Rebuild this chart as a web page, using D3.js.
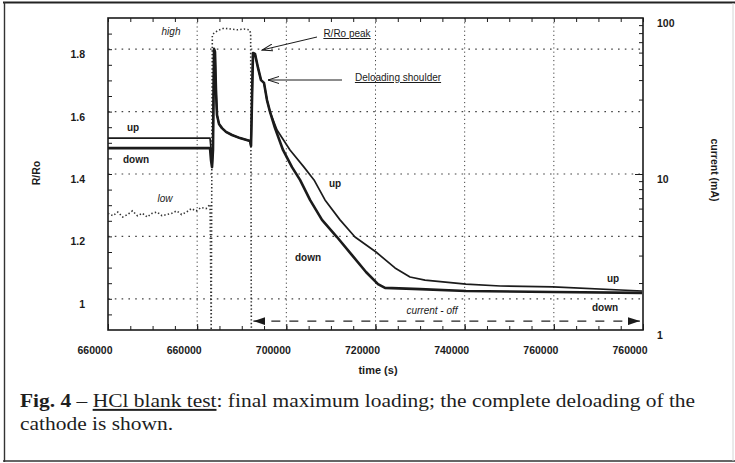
<!DOCTYPE html>
<html>
<head>
<meta charset="utf-8">
<script src="https://cdn.jsdelivr.net/npm/d3@7"></script>
<style>
  body { margin: 0; background: #fff; }
  svg { display: block; }
</style>
</head>
<body>
<svg id="chart" width="735" height="463"></svg>
<script>
// ---- data -------------------------------------------------------------
const timeTicks = [660000, 680000, 700000, 720000, 740000, 760000, 780000];
const timeTickLabels = ["660000", "660000", "700000", "720000", "740000", "760000", "760000"];
const ratioTicks = [1, 1.2, 1.4, 1.6, 1.8];
const ratioTickLabels = ["1", "1.2", "1.4", "1.6", "1.8"];
const currentTicks = [1, 10, 100];
const currentTickLabels = ["1", "10", "100"];

// R/Ro, "down" measurement: [time (s), R/Ro]
const downSeries = [
  [660000, 1.483], [682880, 1.483], [683100, 1.445], [683330, 1.422], [683550, 1.477],
  [683780, 1.801], [684000, 1.791], [684220, 1.669], [684450, 1.589], [684900, 1.560],
  [685570, 1.547], [686470, 1.535], [687810, 1.525], [689610, 1.515], [691850, 1.506],
  [692080, 1.490], [692300, 1.637], [692520, 1.788], [692970, 1.785], [693650, 1.740],
  [694320, 1.701], [694990, 1.692], [695660, 1.637], [696340, 1.599], [697460, 1.547],
  [699250, 1.477], [701270, 1.422], [703070, 1.381], [705310, 1.317], [708000, 1.253],
  [711360, 1.198], [714730, 1.140], [717870, 1.086], [720560, 1.047], [722130, 1.035],
  [729980, 1.031], [740300, 1.025], [759810, 1.022], [779780, 1.019]
];

// R/Ro, "up" measurement: [time (s), R/Ro]
const upSeries = [
  [660000, 1.515], [682880, 1.515], [683100, 1.483], [683330, 1.422], [683550, 1.477],
  [683780, 1.801], [684000, 1.791], [684220, 1.669], [684450, 1.589], [684900, 1.560],
  [685570, 1.547], [686470, 1.535], [687810, 1.525], [689610, 1.515], [691850, 1.506],
  [692080, 1.490], [692300, 1.637], [692520, 1.788], [692970, 1.785], [693650, 1.740],
  [694320, 1.701], [694990, 1.692], [695660, 1.637], [696340, 1.599], [697910, 1.541],
  [700820, 1.477], [703960, 1.422], [706210, 1.381], [708670, 1.317], [712040, 1.253],
  [715400, 1.198], [720110, 1.150], [724370, 1.099], [727740, 1.070], [731100, 1.060],
  [740300, 1.047], [748000, 1.041], [759810, 1.038], [779780, 1.025]
];

// cell current (mA): [time (s), mA]
const currentSeries = [
  [660000, 5.6], [661100, 5.4], [662200, 5.7], [663300, 5.3], [664400, 5.5],
  [665500, 5.8], [666600, 5.4], [667700, 5.6], [668800, 5.3], [669900, 5.6],
  [671000, 5.7], [672100, 5.4], [673200, 5.5], [674300, 5.6], [675400, 5.8],
  [676500, 5.5], [677600, 5.7], [678700, 6.0], [679800, 5.8], [680900, 6.1],
  [682000, 6.0], [682900, 6.4], [683150, 1.0], [683400, 78], [683800, 80],
  [684600, 83], [686000, 86], [687500, 85], [689000, 84], [690500, 85],
  [691700, 84], [692000, 80], [692150, 1.0]
];

// ---- layout -----------------------------------------------------------
const svg = d3.select("#chart");
const plot = { left: 108, right: 643, top: 18, bottom: 330 };
const sans = "'Liberation Sans', Arial, sans-serif";
const serif = "'Liberation Serif', 'Times New Roman', serif";
const ink = "#1b1b1b";

const x = d3.scaleLinear().domain([660000, 780000]).range([plot.left, plot.right]);
const yR = d3.scaleLinear().domain([0.9, 1.9]).range([plot.bottom, plot.top]);
const yI = d3.scaleLog().domain([1, 100]).range([plot.bottom, plot.top]);

svg.append("rect").attr("width", 735).attr("height", 463).attr("fill", "#fff");

// outer frame of the figure
svg.append("line").attr("x1", 3).attr("x2", 735).attr("y1", 2.5).attr("y2", 2.5)
  .attr("stroke", "#222").attr("stroke-width", 2.2);
svg.append("line").attr("x1", 4.5).attr("x2", 4.5).attr("y1", 2).attr("y2", 462)
  .attr("stroke", "#333").attr("stroke-width", 1.4);
svg.append("line").attr("x1", 3).attr("x2", 735).attr("y1", 461).attr("y2", 461)
  .attr("stroke", "#333").attr("stroke-width", 1.6);
svg.append("line").attr("x1", 733).attr("x2", 733).attr("y1", 3).attr("y2", 461)
  .attr("stroke", "#d4d4d4").attr("stroke-width", 1);

svg.append("clipPath").attr("id", "plotclip").append("rect")
  .attr("x", plot.left).attr("y", plot.top)
  .attr("width", plot.right - plot.left).attr("height", plot.bottom - plot.top);

// dotted grid
const grid = svg.append("g").attr("stroke", "#444").attr("fill", "none");
grid.selectAll("line.h").data(ratioTicks).join("line")
  .attr("x1", plot.left).attr("x2", plot.right)
  .attr("y1", d => yR(d)).attr("y2", d => yR(d))
  .attr("stroke-width", 1.2).attr("stroke-dasharray", "1.6,5.2");
grid.selectAll("line.v").data(timeTicks.slice(1, -1)).join("line")
  .attr("x1", d => x(d)).attr("x2", d => x(d))
  .attr("y1", plot.top).attr("y2", plot.bottom)
  .attr("stroke-width", 1).attr("stroke-dasharray", "1.2,3");

// minor ticks (inward)
const minorT = d3.range(660000, 780001, 5000);
const axT = d3.axisTop(x).tickValues(minorT).tickSize(-4).tickFormat("");
const axB = d3.axisBottom(x).tickValues(minorT).tickSize(-4).tickFormat("");
const axBMaj = d3.axisBottom(x).tickValues(timeTicks).tickSize(-6).tickFormat("");
const axL = d3.axisLeft(yR).tickValues(d3.range(0.95, 1.9, 0.05)).tickSize(-4).tickFormat("");
const logMinor = [2,3,4,5,6,7,8,9,20,30,40,50,60,70,80,90];
const axR = d3.axisRight(yI).tickValues(logMinor).tickSize(-4).tickFormat("");
const axRMaj = d3.axisRight(yI).tickValues([10]).tickSize(-8).tickFormat("");
[[axT, `translate(0,${plot.top})`], [axB, `translate(0,${plot.bottom})`],
 [axBMaj, `translate(0,${plot.bottom})`], [axL, `translate(${plot.left},0)`],
 [axR, `translate(${plot.right},0)`], [axRMaj, `translate(${plot.right},0)`]]
  .forEach(([a, t]) => {
    const g = svg.append("g").attr("transform", t).call(a);
    g.select(".domain").remove();
    g.selectAll("line").attr("stroke", ink).attr("stroke-width", 1);
  });

// frame of the plot
svg.append("rect").attr("x", plot.left).attr("y", plot.top)
  .attr("width", plot.right - plot.left).attr("height", plot.bottom - plot.top)
  .attr("fill", "none").attr("stroke", ink).attr("stroke-width", 1.6);

// tick labels
const lbl = svg.append("g").attr("font-family", sans).attr("font-weight", "bold")
  .attr("font-size", 10.5).attr("fill", ink);
lbl.selectAll("text.x").data(timeTicks).join("text")
  .attr("x", d => x(d) - 13).attr("y", 354).attr("text-anchor", "middle")
  .text((d, i) => timeTickLabels[i]);
lbl.selectAll("text.l").data(ratioTicks).join("text")
  .attr("x", 85).attr("y", d => yR(d) + 9).attr("text-anchor", "end")
  .text((d, i) => ratioTickLabels[i]);
lbl.selectAll("text.r").data(currentTicks).join("text")
  .attr("x", 657).attr("y", d => yI(d) + 9).attr("text-anchor", "start")
  .text((d, i) => currentTickLabels[i]);

// axis titles
lbl.append("text").attr("transform", "translate(40,173) rotate(-90)")
  .attr("text-anchor", "middle").text("R/Ro");
lbl.append("text").attr("transform", "translate(711,170) rotate(90)")
  .attr("text-anchor", "middle").text("current (mA)");
lbl.append("text").attr("x", 378).attr("y", 374).attr("text-anchor", "middle")
  .attr("font-size", 11).text("time (s)");

// series
const body = svg.append("g").attr("clip-path", "url(#plotclip)");
const lineR = d3.line().x(d => x(d[0])).y(d => yR(d[1]));
const lineI = d3.line().x(d => x(d[0])).y(d => yI(d[1]));

body.append("path").datum(currentSeries).attr("d", lineI)
  .attr("fill", "none").attr("stroke", "#333").attr("stroke-width", 1.6)
  .attr("stroke-dasharray", "1.4,2.2");
body.append("path").datum(upSeries).attr("d", lineR)
  .attr("fill", "none").attr("stroke", ink).attr("stroke-width", 1.7)
  .attr("stroke-linejoin", "round");
body.append("path").datum(downSeries).attr("d", lineR)
  .attr("fill", "none").attr("stroke", ink).attr("stroke-width", 2.6)
  .attr("stroke-linejoin", "round");

// current-off span arrow
const offStart = 692600, offEnd = 779300, offLevel = 1.14;
const defs = svg.append("defs");
defs.append("marker").attr("id", "solidhead").attr("viewBox", "0 0 12 8")
  .attr("refX", 12).attr("refY", 4).attr("markerWidth", 12).attr("markerHeight", 8)
  .attr("markerUnits", "userSpaceOnUse").attr("orient", "auto-start-reverse")
  .append("path").attr("d", "M0,0 L12,4 L0,8 Z").attr("fill", ink);
defs.append("marker").attr("id", "openhead").attr("viewBox", "0 0 12 8")
  .attr("refX", 1).attr("refY", 4).attr("markerWidth", 12).attr("markerHeight", 8)
  .attr("markerUnits", "userSpaceOnUse").attr("orient", "auto")
  .append("path").attr("d", "M12,0.5 L1,4 L12,7.5").attr("fill", "none")
  .attr("stroke", ink).attr("stroke-width", 1);

svg.append("line")
  .attr("x1", x(offStart)).attr("x2", x(offEnd))
  .attr("y1", yI(offLevel)).attr("y2", yI(offLevel))
  .attr("stroke", "#222").attr("stroke-width", 1.1).attr("stroke-dasharray", "9,9")
  .attr("marker-start", "url(#solidhead)").attr("marker-end", "url(#solidhead)");

// pointer arrows
svg.append("line").attr("x1", 262).attr("y1", 50).attr("x2", 317).attr("y2", 37)
  .attr("stroke", ink).attr("stroke-width", 1).attr("marker-start", "url(#openhead)");
svg.append("line").attr("x1", 268).attr("y1", 80).attr("x2", 342).attr("y2", 80)
  .attr("stroke", ink).attr("stroke-width", 1).attr("marker-start", "url(#openhead)");

// in-plot annotations
const ann = svg.append("g").attr("font-family", sans).attr("font-size", 10).attr("fill", ink);
const bold = [["up", 133, 131], ["down", 136, 163], ["up", 335, 187], ["down", 308, 261],
              ["up", 613, 282], ["down", 605, 311]];
ann.selectAll("text.b").data(bold).join("text")
  .attr("x", d => d[1]).attr("y", d => d[2]).attr("text-anchor", "middle")
  .attr("font-weight", "bold").text(d => d[0]);
const ital = [["high", 171, 35], ["low", 165, 202], ["current - off", 432, 314]];
ann.selectAll("text.i").data(ital).join("text")
  .attr("x", d => d[1]).attr("y", d => d[2]).attr("text-anchor", "middle")
  .attr("font-style", "italic").text(d => d[0]);
const under = [["R/Ro peak", 347, 37], ["Deloading shoulder", 398, 81]];
ann.selectAll("text.u").data(under).join("text")
  .attr("x", d => d[1]).attr("y", d => d[2]).attr("text-anchor", "middle")
  .attr("text-decoration", "underline").text(d => d[0]);

// caption
const cap = svg.append("text").attr("font-family", serif).attr("font-size", 19.5)
  .attr("fill", "#1e1e1e").attr("transform", "translate(20,0) scale(1.1,1)");
const l1 = cap.append("tspan").attr("x", 0).attr("y", 407);
l1.append("tspan").attr("font-weight", "bold").text("Fig. 4");
l1.append("tspan").text(" \u2013 ");
l1.append("tspan").attr("text-decoration", "underline").text("HCl blank test");
l1.append("tspan").text(": final maximum loading; the complete deloading of the");
cap.append("tspan").attr("x", 0).attr("y", 430).text("cathode is shown.");
</script>
</body>
</html>
